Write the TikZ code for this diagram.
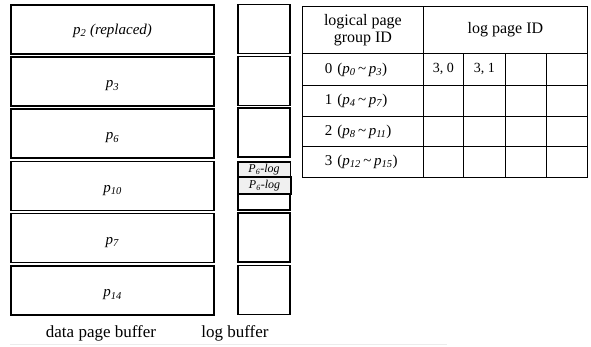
\documentclass[tikz,border=0pt]{standalone}
\usepackage{fontspec}
\setmainfont{Liberation Serif}
% italic page name with italic subscript
\newcommand{\pgname}[2][p]{\textit{#1}\textsubscript{\textit{#2}}}
\newcommand{\pgrange}[3]{#1 (\pgname{#2}\,\textasciitilde\,\pgname{#3})}
\begin{document}
\begin{tikzpicture}[x=1pt,y=-1pt,
  page/.style={draw, line width=1.8pt, minimum width=203pt, minimum height=49pt, inner sep=0pt, text height=16pt, font=\fontsize{15}{17}\selectfont},
  logslot/.style={draw, line width=1.8pt, minimum width=52pt, minimum height=49pt, inner sep=0pt},
  logrec/.style={draw, fill=gray!12, minimum width=52pt, inner sep=0pt, font=\fontsize{12}{13}\selectfont},
  cell/.style={draw, line width=0.8pt, inner sep=0pt, anchor=north west},
  caption/.style={font=\fontsize{17}{19}\selectfont}
]
\useasboundingbox (0,0) rectangle (591,346);

% data page buffer
\node[page, text height=13pt] (d1) at (112.5,29.5) {\pgname{2} \textit{(replaced)}};
\node[page] (d2) at (112.5,81.5) {\pgname{3}};
\node[page] (d3) at (112.5,133.5) {\pgname{6}};
\node[page] (d4) at (112.5,186) {\pgname{10}};
\node[page] (d5) at (112.5,238) {\pgname{7}};
\node[page] (d6) at (112.5,290.5) {\pgname{14}};

% log buffer
\node[logslot] (l1) at (264,29) {};
\node[logslot] (l2) at (264,81) {};
\node[logslot] (l3) at (264,132.5) {};
\node[logslot, minimum height=48pt] (l4) at (264,186) {};
\node[logslot] (l5) at (264,237.5) {};
\node[logslot] (l6) at (264,290) {};
\node[logrec, line width=0.8pt, minimum height=15pt] (r1) at (264,169.5) {\pgname[P]{6}-\textit{log}};
\node[logrec, line width=1.6pt, minimum height=17pt, minimum width=53pt] (r2) at (264.5,185.5) {\pgname[P]{6}-\textit{log}};

% captions
\node[caption] (cd) at (101,333) {data page buffer};
\node[caption] (cl) at (235,333) {log buffer};
\draw[gray!15, line width=0.6pt] (10,344.5) -- (447,344.5);

% mapping table
\begin{scope}[font=\fontsize{16}{17}\selectfont]
\node[cell, minimum width=121pt, minimum height=47pt, align=center] (h1) at (302,6) {logical page\\group ID};
\node[cell, minimum width=164pt, minimum height=47pt] (h2) at (423,6) {log page ID};
\end{scope}
\begin{scope}[font=\fontsize{15}{16}\selectfont]
\node[cell, minimum width=121pt, minimum height=32pt, text width=106pt, align=left] (g0) at (302,53) {\hspace*{15pt}\pgrange{0}{0}{3}};
\node[cell, minimum width=121pt, minimum height=31pt, text width=106pt, align=left] (g1) at (302,85) {\hspace*{15pt}\pgrange{1}{4}{7}};
\node[cell, minimum width=121pt, minimum height=30pt, text width=106pt, align=left] (g2) at (302,116) {\hspace*{15pt}\pgrange{2}{8}{11}};
\node[cell, minimum width=121pt, minimum height=31pt, text width=106pt, align=left] (g3) at (302,146) {\hspace*{15pt}\pgrange{3}{12}{15}};
\end{scope}
\begin{scope}[font=\fontsize{14}{15}\selectfont]
\node[cell, minimum width=40pt, minimum height=32pt] (c00) at (423,53) {3, 0};
\node[cell, minimum width=42pt, minimum height=32pt] (c01) at (463,53) {3, 1};
\node[cell, minimum width=41pt, minimum height=32pt] (c02) at (505,53) {};
\node[cell, minimum width=41pt, minimum height=32pt] (c03) at (546,53) {};
\foreach \r/\y/\h in {1/85/31,2/116/30,3/146/31}{
  \node[cell, minimum width=40pt, minimum height=\h pt] (c\r0) at (423,\y) {};
  \node[cell, minimum width=42pt, minimum height=\h pt] (c\r1) at (463,\y) {};
  \node[cell, minimum width=41pt, minimum height=\h pt] (c\r2) at (505,\y) {};
  \node[cell, minimum width=41pt, minimum height=\h pt] (c\r3) at (546,\y) {};
}
\end{scope}
\end{tikzpicture}
\end{document}
